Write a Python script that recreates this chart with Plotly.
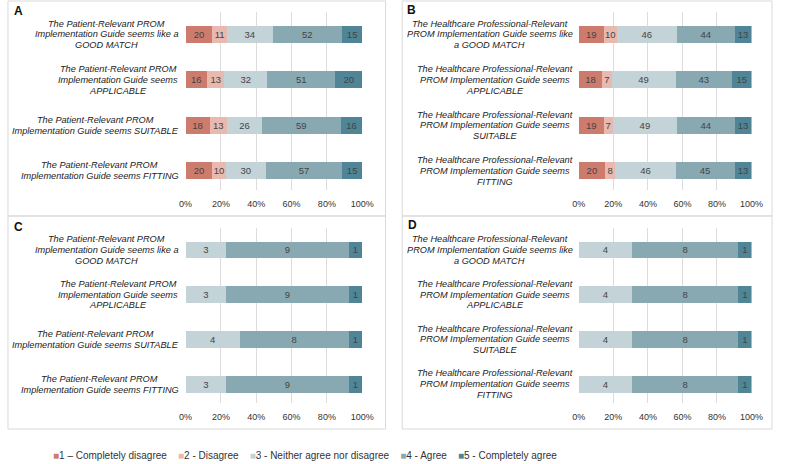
import plotly.graph_objects as go

W, H = 785, 464

categories = ["1 – Completely disagree", "2 - Disagree", "3 - Neither agree nor disagree",
              "4 - Agree", "5 - Completely agree"]
colors = ["#cd7b6d", "#e9b9b0", "#c4d3d8", "#89a9b2", "#4f8596"]

patient_labels = [
    ["The Patient-Relevant PROM", "Implementation Guide seems like a", "GOOD MATCH"],
    ["The Patient-Relevant PROM", "Implementation Guide seems", "APPLICABLE"],
    ["The Patient-Relevant PROM", "Implementation Guide seems SUITABLE"],
    ["The Patient-Relevant PROM", "Implementation Guide seems FITTING"],
]
hcp_labels = [
    ["The Healthcare Professional-Relevant", "PROM Implementation Guide seems like", "a GOOD MATCH"],
    ["The Healthcare Professional-Relevant", "PROM Implementation Guide seems", "APPLICABLE"],
    ["The Healthcare Professional-Relevant", "PROM Implementation Guide seems", "SUITABLE"],
    ["The Healthcare Professional-Relevant", "PROM Implementation Guide seems", "FITTING"],
]

# counts per statement: [cat1, cat2, cat3, cat4, cat5]
A_counts = [[20, 11, 34, 52, 15], [16, 13, 32, 51, 20], [18, 13, 26, 59, 16], [20, 10, 30, 57, 15]]
B_counts = [[19, 10, 46, 44, 13], [18, 7, 49, 43, 15], [19, 7, 49, 44, 13], [20, 8, 46, 45, 13]]
C_counts = [[0, 0, 3, 9, 1], [0, 0, 3, 9, 1], [0, 0, 4, 8, 1], [0, 0, 3, 9, 1]]
D_counts = [[0, 0, 4, 8, 1], [0, 0, 4, 8, 1], [0, 0, 4, 8, 1], [0, 0, 4, 8, 1]]

tick_vals = [0, 20, 40, 60, 80, 100]
tick_text = ["0%", "20%", "40%", "60%", "80%", "100%"]

FONT = "Liberation Sans, Arial, sans-serif"
LABEL_SIZE = 9.2
LINE_GAP = 10.8

# approximate Arial advance widths (1/1000 em) to centre the label lines
ARIAL = {' ': 278, '-': 333, 'A': 667, 'B': 667, 'C': 722, 'D': 722, 'E': 667, 'F': 611, 'G': 778,
         'H': 722, 'I': 278, 'L': 556, 'M': 833, 'N': 722, 'O': 778, 'P': 667, 'R': 722, 'S': 667,
         'T': 611, 'U': 722, 'a': 556, 'b': 556, 'c': 500, 'd': 556, 'e': 556, 'f': 278, 'g': 556,
         'h': 556, 'i': 222, 'k': 500, 'l': 222, 'm': 833, 'n': 556, 'o': 556, 'p': 556, 'r': 333,
         's': 500, 't': 278, 'u': 556, 'v': 500, 'w': 722, 'y': 500}


def text_w(s, size):
    return sum(ARIAL.get(c, 556) for c in s) * size / 1000.0


def px(x):
    return x / W


def py(y):
    return 1 - y / H


fig = go.Figure()
panels = [
    ("A", A_counts, patient_labels, "x", "y", 174, 7, 11),
    ("B", B_counts, hcp_labels, "x2", "y2", 578, 410, 10),
    ("C", C_counts, patient_labels, "x3", "y3", 174, 7, 227),
    ("D", D_counts, hcp_labels, "x4", "y4", 578, 411, 225),
]
ids = [0, 1, 2, 3]
for pi, (letter, counts, labels, xa, ya, lab_x, let_x, let_y) in enumerate(panels):
    totals = [sum(r) for r in counts]
    for k in range(5):
        vals = [r[k] / t * 100 for r, t in zip(counts, totals)]
        texts = [str(r[k]) if r[k] else "" for r in counts]
        fig.add_trace(go.Bar(
            y=ids, x=vals, orientation="h",
            marker=dict(color=colors[k], line=dict(width=0)),
            text=texts, textposition="inside", insidetextanchor="middle",
            textangle=0, constraintext="none",
            textfont=dict(size=9.5, color="#444444", family=FONT),
            name=categories[k], showlegend=False,
            xaxis=xa, yaxis=ya, hoverinfo="skip",
        ))
    for i, lines in enumerate(labels):
        block_w = max(text_w(s, LABEL_SIZE) for s in lines)
        cx = lab_x - block_w / 2
        n = len(lines)
        for j, s in enumerate(lines):
            fig.add_annotation(
                x=px(cx), xref="paper", y=ids[i], yref=ya,
                yshift=-(j - (n - 1) / 2) * LINE_GAP,
                text="<i>" + s + "</i>", showarrow=False, xanchor="center",
                yanchor="middle", align="center",
                font=dict(size=LABEL_SIZE, color="#222222", family=FONT),
            )
    fig.add_annotation(
        x=px(let_x), y=py(let_y), xref="paper", yref="paper", text="<b>" + letter + "</b>",
        showarrow=False, xanchor="left", yanchor="middle", xshift=-2,
        font=dict(size=12, color="#111111", family=FONT),
    )

# legend built as text with coloured square glyphs
sep = "\u00a0\u00a0\u00a0\u00a0"
legend_parts = []
for c, name in zip(colors, categories):
    legend_parts.append('<span style="color:%s">■</span>%s' % (c, name))
fig.add_annotation(
    x=px(45), y=py(455), xref="paper", yref="paper", text=sep.join(legend_parts),
    showarrow=False, xanchor="left", yanchor="middle",
    font=dict(size=10, color="#333333", family=FONT),
)

colL = [px(183), px(364)]
colR = [px(586), px(763)]
rowT = [py(190), py(12)]
rowB = [py(403), py(228)]

xcommon = dict(range=[0, 100], tickvals=tick_vals, ticktext=tick_text, showgrid=True,
               gridcolor="#dcdcdc", gridwidth=1, zeroline=False, showline=False,
               ticks="", ticklabelstandoff=7,
               tickfont=dict(size=9, color="#333333", family=FONT), fixedrange=True)
ycommon = dict(range=[3.42, -0.49], showticklabels=False, showgrid=False, zeroline=False,
               showline=False, ticks="", fixedrange=True)

fig.update_layout(
    xaxis=dict(domain=colL, anchor="y", **xcommon),
    yaxis=dict(domain=rowT, anchor="x", **ycommon),
    xaxis2=dict(domain=colR, anchor="y2", **xcommon),
    yaxis2=dict(domain=rowT, anchor="x2", **ycommon),
    xaxis3=dict(domain=colL, anchor="y3", **xcommon),
    yaxis3=dict(domain=rowB, anchor="x3", **ycommon),
    xaxis4=dict(domain=colR, anchor="y4", **xcommon),
    yaxis4=dict(domain=rowB, anchor="x4", **ycommon),
)

# panel borders
for (x0, y0, x1, y1) in [(1, 1, 388, 216), (1, 216, 388, 429), (405, 1, 784, 216), (405, 216, 784, 429)]:
    fig.add_shape(type="rect", xref="paper", yref="paper", x0=px(x0), x1=px(x1),
                  y0=py(y1), y1=py(y0), line=dict(color="#d9d9d9", width=1),
                  fillcolor="rgba(0,0,0,0)", layer="below")

fig.update_layout(
    width=W, height=H, margin=dict(l=0, r=0, t=0, b=0),
    paper_bgcolor="white", plot_bgcolor="white",
    barmode="stack", bargap=0.628,
    font=dict(family=FONT, color="#333333"),
    showlegend=False,
)

fig.write_html(
    "out.html",
    config={"displayModeBar": False, "staticPlot": True},
    post_script="document.body.style.margin='0px';document.body.style.padding='0px';"
                "document.body.style.overflow='hidden';",
)
